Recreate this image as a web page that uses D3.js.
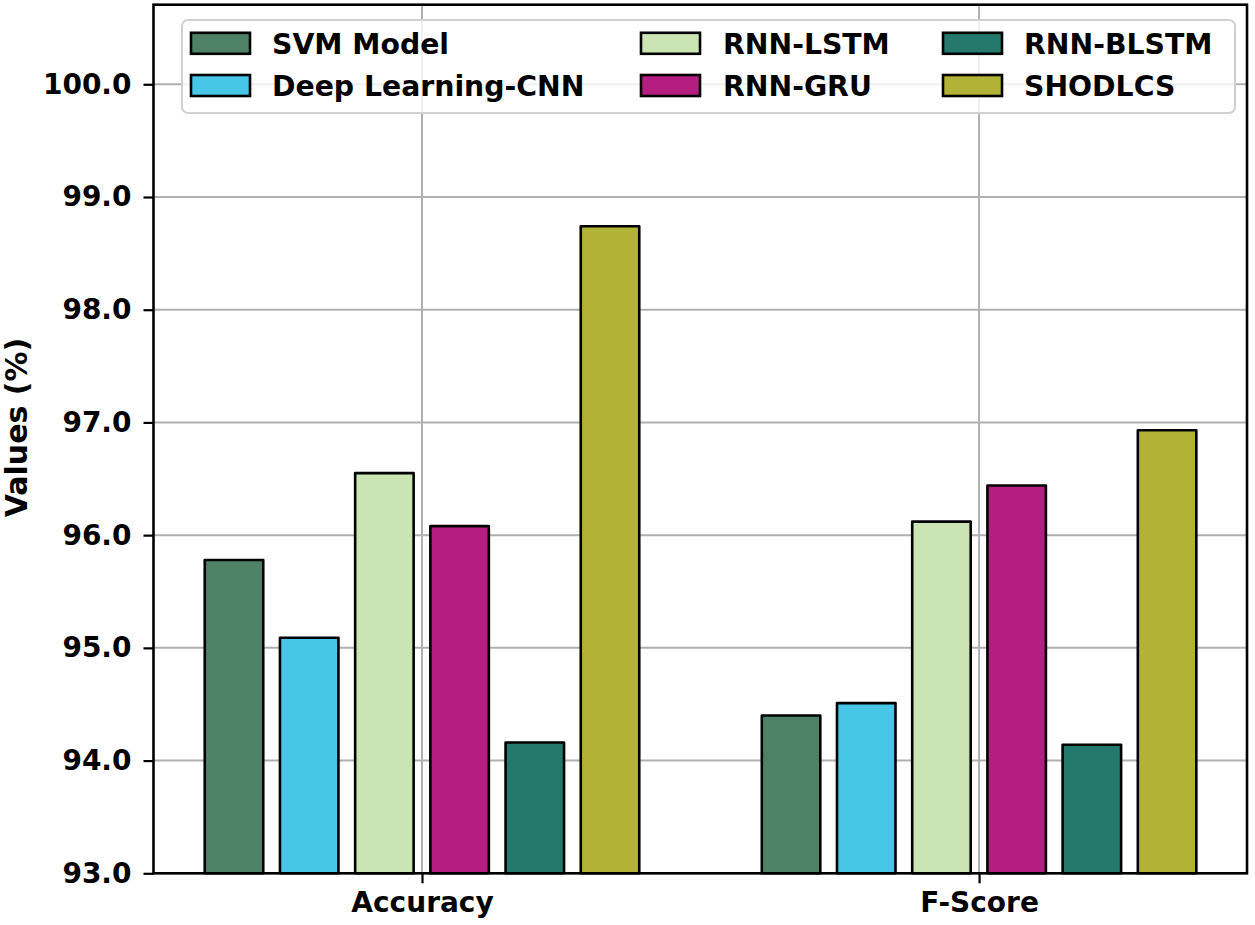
<!DOCTYPE html>
<html>
<head>
<meta charset="utf-8">
<script src="https://cdn.jsdelivr.net/npm/d3@7/dist/d3.min.js"></script>
<style>
  html, body { margin: 0; padding: 0; background: #fff; }
  svg { display: block; font-family: "DejaVu Sans", sans-serif; font-weight: bold; }
</style>
</head>
<body>
<svg id="chart" width="1255" height="925"></svg>
<script>
const categories = ["Accuracy", "F-Score"];
const seriesNames = ["SVM Model", "Deep Learning-CNN", "RNN-LSTM", "RNN-GRU", "RNN-BLSTM", "SHODLCS"];
const seriesColors = ["#4E8266", "#48C6E8", "#CBE4B4", "#B51E80", "#24786C", "#B2B236"];
const svmValues     = [95.78, 94.40];
const cnnValues     = [95.09, 94.51];
const lstmValues    = [96.55, 96.12];
const gruValues     = [96.08, 96.44];
const blstmValues   = [94.16, 94.14];
const shodlcsValues = [98.74, 96.93];
const seriesValues = [svmValues, cnnValues, lstmValues, gruValues, blstmValues, shodlcsValues];
const yTicks = [93.0, 94.0, 95.0, 96.0, 97.0, 98.0, 99.0, 100.0];

const svg = d3.select("#chart");
const L = 153.5, R = 1247, T = 4.7, B = 873.3;

const step = 0.135, barW = 0.105;
const x = d3.scaleLinear().domain([-0.482, 1.481]).range([L, R]);
const y = d3.scaleLinear().domain([93, 100.706]).range([B, T]);

// grid
const grid = svg.append("g");
grid.selectAll("line.h").data(yTicks).enter().append("line")
  .attr("x1", L).attr("x2", R)
  .attr("y1", d => y(d)).attr("y2", d => y(d))
  .attr("stroke", "#b0b0b0").attr("stroke-width", 2);
grid.selectAll("line.v").data(categories).enter().append("line")
  .attr("x1", (d, i) => x(i)).attr("x2", (d, i) => x(i))
  .attr("y1", T).attr("y2", B)
  .attr("stroke", "#b0b0b0").attr("stroke-width", 2);

// bars
const bars = [];
seriesValues.forEach((vals, s) => {
  vals.forEach((v, c) => bars.push({ s, c, v }));
});
svg.append("g").selectAll("rect").data(bars).enter().append("rect")
  .attr("x", d => x(d.c + (d.s - 2.5) * step - barW / 2))
  .attr("width", d => x(barW) - x(0))
  .attr("y", d => y(d.v))
  .attr("height", d => y(93) - y(d.v))
  .attr("fill", d => seriesColors[d.s])
  .attr("stroke", "#000").attr("stroke-width", 2.6)
  .attr("stroke-linejoin", "round");

// axes
const yAxis = d3.axisLeft(y).tickValues(yTicks).tickFormat(d3.format(".1f")).tickSize(10).tickPadding(12);
const gy = svg.append("g").attr("transform", `translate(${L},0)`).call(yAxis);
gy.select(".domain").remove();
gy.selectAll("line").attr("stroke", "#000").attr("stroke-width", 2.2);
gy.selectAll("text").attr("font-size", "28px").attr("font-family", "DejaVu Sans").attr("font-weight", "bold").attr("fill", "#000");

const xAxis = d3.axisBottom(x).tickValues([0, 1]).tickFormat(i => categories[i]).tickSize(10).tickPadding(9);
const gx = svg.append("g").attr("transform", `translate(0,${B})`).call(xAxis);
gx.select(".domain").remove();
gx.selectAll("line").attr("stroke", "#000").attr("stroke-width", 2.2);
gx.selectAll("text").attr("font-size", "28px").attr("font-family", "DejaVu Sans").attr("font-weight", "bold").attr("fill", "#000");

// frame
svg.append("rect").attr("x", L).attr("y", T).attr("width", R - L).attr("height", B - T)
  .attr("fill", "none").attr("stroke", "#000").attr("stroke-width", 2.6);

// y label
svg.append("text")
  .attr("transform", `translate(27,427.5) rotate(-90)`)
  .attr("text-anchor", "middle")
  .attr("font-size", "30px")
  .attr("fill", "#000")
  .text("Values (%)");

// legend
const lg = svg.append("g");
lg.append("rect").attr("x", 182).attr("y", 20).attr("width", 1235 - 182).attr("height", 93)
  .attr("rx", 6).attr("fill", "#fff").attr("fill-opacity", 0.8)
  .attr("stroke", "#d0d0d0").attr("stroke-width", 2);
const colX = [191, 641, 943];
const textX = [272, 723, 1024];
const rowY = [43.3, 85.5];
seriesNames.forEach((name, i) => {
  const col = Math.floor(i / 2), row = i % 2;
  lg.append("rect").attr("x", colX[col]).attr("y", rowY[row] - 10.5)
    .attr("width", 59).attr("height", 21)
    .attr("fill", seriesColors[i]).attr("stroke", "#000").attr("stroke-width", 2.6);
  lg.append("text").attr("x", textX[col]).attr("y", rowY[row] + 10.3)
    .attr("font-size", "28.3px").attr("fill", "#000").text(name);
});
</script>
</body>
</html>
